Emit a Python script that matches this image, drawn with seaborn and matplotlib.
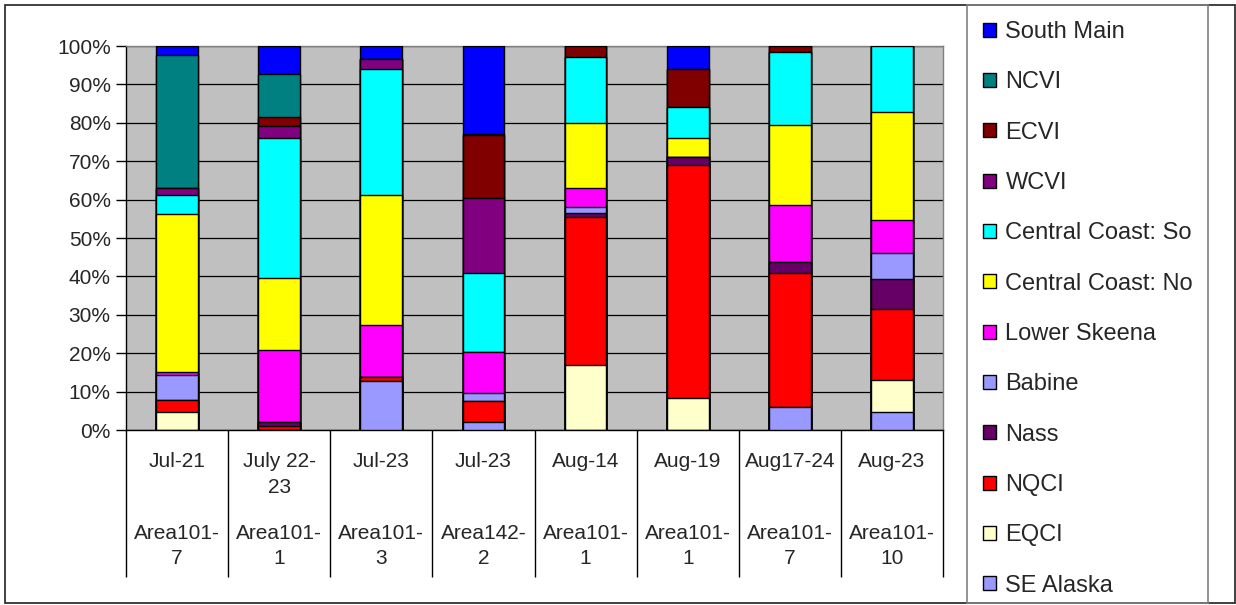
import matplotlib
matplotlib.use("Agg")
import matplotlib.pyplot as plt
from matplotlib.patches import Rectangle, Patch
from matplotlib.ticker import FuncFormatter
import numpy as np
import pandas as pd
import seaborn as sns

sns.set_style("white")
plt.rcParams["font.family"] = ["Liberation Sans", "DejaVu Sans"]

# Sample labels (two rows under each bar)
dates = ["Jul-21", "July 22-\n23", "Jul-23", "Jul-23", "Aug-14", "Aug-19", "Aug17-24", "Aug-23"]
areas = ["Area101-\n7", "Area101-\n1", "Area101-\n3", "Area142-\n2",
         "Area101-\n1", "Area101-\n1", "Area101-\n7", "Area101-\n10"]

# Stock composition (%), listed from the bottom of each stack upward
se_alaska    = [0.0, 0.0, 12.9, 2.0, 0.0, 0.0, 6.1, 4.8]
eqci         = [4.8, 0.0, 0.0, 0.0, 16.8, 8.3, 0.0, 8.1]
nqci         = [3.1, 1.1, 0.9, 5.5, 38.7, 60.7, 34.9, 18.7]
nass         = [0.0, 1.0, 0.0, 0.0, 0.9, 2.1, 2.8, 7.8]
babine       = [6.3, 0.0, 0.0, 2.2, 1.7, 0.0, 0.0, 6.7]
lower_skeena = [0.8, 18.7, 13.5, 10.6, 4.8, 0.0, 14.8, 8.5]
cc_north     = [41.3, 18.8, 33.9, 0.0, 17.1, 4.9, 21.0, 28.1]
cc_south     = [4.8, 36.4, 32.9, 20.7, 17.2, 8.3, 19.0, 17.3]
wcvi         = [1.9, 3.0, 2.6, 19.5, 0.0, 0.0, 0.0, 0.0]
ecvi         = [0.0, 2.4, 0.0, 16.3, 2.8, 9.8, 1.5, 0.0]
ncvi         = [34.6, 11.1, 0.0, 0.3, 0.0, 0.0, 0.0, 0.0]
south_main   = [2.3, 7.3, 3.4, 23.0, 0.0, 6.0, 0.0, 0.0]

stocks = ["SE Alaska", "EQCI", "NQCI", "Nass", "Babine", "Lower Skeena",
          "Central Coast: No", "Central Coast: So", "WCVI", "ECVI", "NCVI", "South Main"]
series = [se_alaska, eqci, nqci, nass, babine, lower_skeena,
          cc_north, cc_south, wcvi, ecvi, ncvi, south_main]
colors = ["#9999FF", "#FFFFCC", "#FF0000", "#660066", "#9999FF", "#FF00FF",
          "#FFFF00", "#00FFFF", "#800080", "#800000", "#008080", "#0000FF"]

samples = [f"{d.replace(chr(10), '')} {a.replace(chr(10), '')}" for d, a in zip(dates, areas)]
vals = pd.DataFrame(np.array(series).T, columns=stocks, index=samples)
share = vals.div(vals.sum(axis=1), axis=0) * 100          # 100% stacked
cum = share.cumsum(axis=1)
cum["sample"] = samples

W, H = 1236, 605
fig = plt.figure(figsize=(W / 100, H / 100), dpi=100)
ax = fig.add_axes([126 / W, 1 - 430 / H, (943 - 126) / W, (430 - 46) / H])
ax.set_facecolor("#C0C0C0")

# Draw cumulative totals from the top of the stack down so each segment shows
for name, col in zip(stocks[::-1], colors[::-1]):
    sns.barplot(data=cum, x="sample", y=name, order=samples, color=col,
                saturation=1, width=0.41, edgecolor="black", linewidth=1.0,
                ax=ax, zorder=3)

ax.set_xlim(-0.5, len(samples) - 0.5)
ax.set_ylim(0, 100)
ax.set_yticks(np.arange(0, 101, 10))
ax.yaxis.set_major_formatter(FuncFormatter(lambda v, _: f"{v:.0f}%"))
ax.yaxis.grid(True, color="black", linewidth=0.9, zorder=1)
ax.set_axisbelow(True)
ax.set_xlabel("")
ax.set_ylabel("")
ax.tick_params(axis="y", which="both", left=True, length=7, width=1,
               color="black", pad=4, labelsize=15)
ax.set_xticks(range(len(samples)))
ax.set_xticklabels([])
ax.tick_params(axis="x", length=0)
for side in ["left", "bottom"]:
    ax.spines[side].set_color("black")
    ax.spines[side].set_linewidth(1)
for side in ["top", "right"]:
    ax.spines[side].set_color("#808080")
    ax.spines[side].set_linewidth(1)

# Category table under the axis
xtr = ax.get_xaxis_transform()
ax.vlines(np.arange(-0.5, len(samples)), -0.383, 0, transform=xtr,
          color="black", linewidth=1, clip_on=False)
for i, (d, a) in enumerate(zip(dates, areas)):
    ax.text(i, -0.058, d, transform=xtr, ha="center", va="top",
            fontsize=15, linespacing=1.42)
    ax.text(i, -0.245, a, transform=xtr, ha="center", va="top",
            fontsize=15, linespacing=1.42)

# Outer frame and legend box
fig.patches.append(Rectangle((5 / W, 2 / H), 1230 / W, 598 / H, transform=fig.transFigure,
                             fill=False, edgecolor="#202020", linewidth=1.2))
fig.patches.append(Rectangle((967 / W, 2 / H), (1208 - 967) / W, 598 / H,
                             transform=fig.transFigure, fill=False,
                             edgecolor="#808080", linewidth=1.2))

handles = [Patch(facecolor=c, edgecolor="black", linewidth=1.0, label=s)
           for s, c in zip(stocks[::-1], colors[::-1])]
fig.legend(handles=handles, loc="upper left", bbox_to_anchor=(983 / W, 1 - 21 / H),
           frameon=False, fontsize=17, handlelength=0.55, handleheight=0.55,
           handletextpad=0.4, labelspacing=1.2, borderpad=0, borderaxespad=0)

fig.savefig("out.png", dpi=100)
